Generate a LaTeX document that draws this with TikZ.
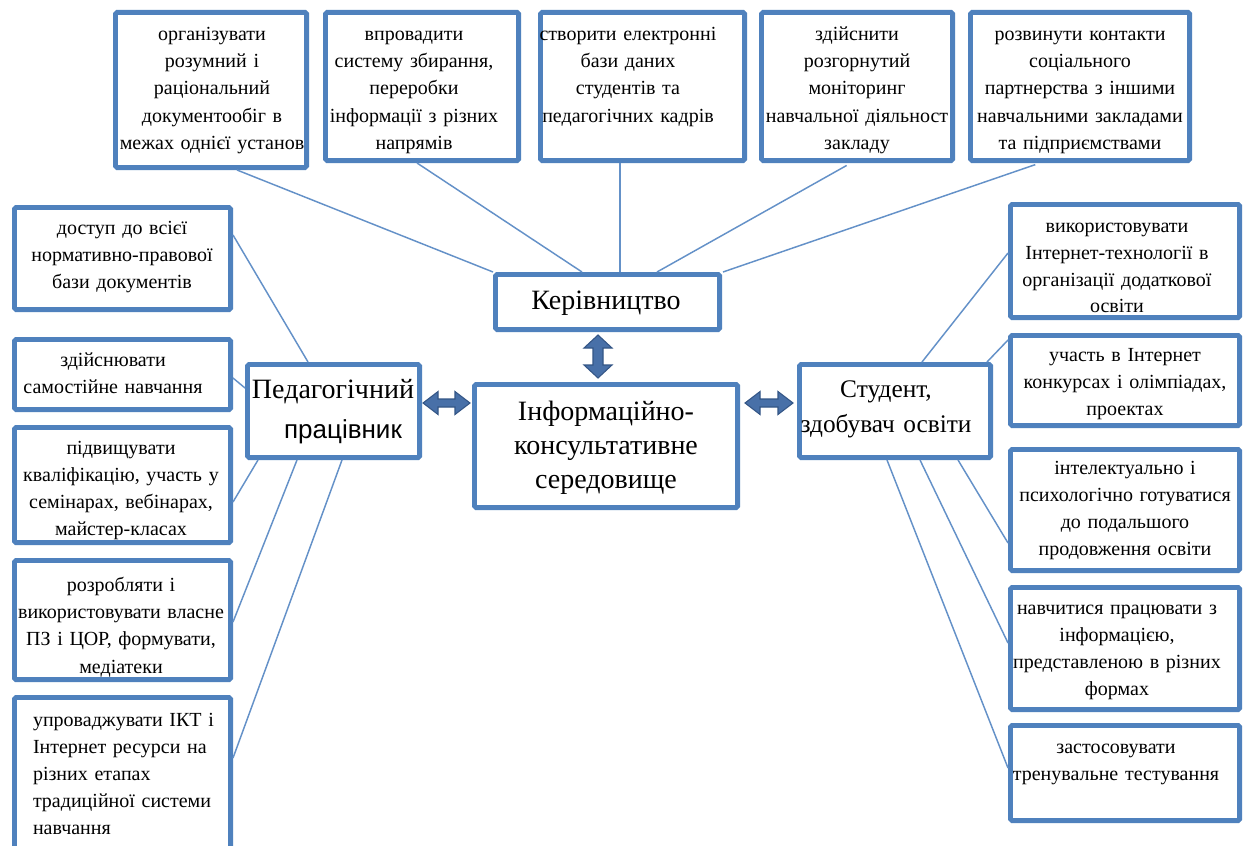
\documentclass[tikz,border=0pt]{standalone}
\usepackage{fontspec}
\setmainfont{Liberation Serif}
\setsansfont{Liberation Sans}
\usetikzlibrary{calc,fit}
\definecolor{boxblue}{RGB}{79,129,189}
\definecolor{lineblue}{RGB}{100,145,200}
\definecolor{arrowblue}{RGB}{72,112,168}
\definecolor{arrowdark}{RGB}{52,86,134}
\newcommand{\dblharrow}[2]{\path[blockarrow] let \p1=#1, \p2=#2 in
  (\x1,\y1) -- (\x1+11.25pt,\y1+8.6pt) -- (\x1+11.25pt,\y1+3pt) -- (\x2-11.25pt,\y1+3pt) -- (\x2-11.25pt,\y1+8.6pt)
  -- (\x2,\y1) -- (\x2-11.25pt,\y1-8.6pt) -- (\x2-11.25pt,\y1-3pt) -- (\x1+11.25pt,\y1-3pt) -- (\x1+11.25pt,\y1-8.6pt) -- cycle;}
\newcommand{\dblvarrow}[2]{\path[blockarrow] let \p1=#1, \p2=#2 in
  (\x1,\y1) -- (\x1+10.5pt,\y1-9.75pt) -- (\x1+3.75pt,\y1-9.75pt) -- (\x1+3.75pt,\y2+9.75pt) -- (\x1+10.5pt,\y2+9.75pt)
  -- (\x1,\y2) -- (\x1-10.5pt,\y2+9.75pt) -- (\x1-3.75pt,\y2+9.75pt) -- (\x1-3.75pt,\y1-9.75pt) -- (\x1-10.5pt,\y1-9.75pt) -- cycle;}
\begin{document}
\begin{tikzpicture}[x=0.75pt,y=-0.75pt,
  box/.style={draw=boxblue, line width=3.6pt, inner sep=0pt, rounded corners=1.2pt},
  conn/.style={draw=lineblue, line width=1.1pt},
  blockarrow/.style={fill=arrowblue, draw=arrowdark, line width=0.8pt, line join=miter},
  sized/.style 2 args={font=\fontsize{#1}{#2}\selectfont, execute at begin node={\fontsize{#1}{#2}\selectfont\strut}},
  txt/.style={inner sep=0pt, outer sep=0pt, text width=180pt, align=center, anchor=north, sized={15}{20.4}},
  txtr/.style={inner sep=0pt, outer sep=0pt, text width=180pt, align=center, anchor=north, sized={15}{20.2}},
  txtl/.style={txt, align=left, anchor=north west},
  big/.style={inner sep=0pt, outer sep=0pt, text width=220pt, align=center, anchor=north}]
\fill[white] (0,0) rectangle (1244,845);
\useasboundingbox (0,0) rectangle (1244,845);

% top row
\node[box, fit={(115.4,12.4) (306.6,167.6)}] (t1) {};
\node[box, fit={(325.4,12.4) (518.6,160.6)}] (t2) {};
\node[box, fit={(540.4,12.4) (744.6,160.6)}] (t3) {};
\node[box, fit={(761.4,12.4) (952.6,160.6)}] (t4) {};
\node[box, fit={(970.4,12.4) (1189.6,160.6)}] (t5) {};
\node[txt] (t1t) at (212,21.5) {організувати\\розумний і\\раціональний\\документообіг в\\межах однієї установ};
\node[txt] (t2t) at (414,21.5) {впровадити\\систему збирання,\\переробки\\інформації з різних\\напрямів};
\node[txt] (t3t) at (628,21.5) {створити електронні\\бази даних\\студентів та\\педагогічних кадрів};
\node[txt] (t4t) at (857,21.5) {здійснити\\розгорнутий\\моніторинг\\навчальної діяльност\\закладу};
\node[txt] (t5t) at (1080,21.5) {розвинути контакти\\соціального\\партнерства з іншими\\навчальними закладами\\та підприємствами};

% left column
\node[box, fit={(14.4,207.4) (230.6,309.6)}] (l1) {};
\node[box, fit={(14.4,339.4) (230.6,409.6)}] (l2) {};
\node[box, fit={(14.4,427.4) (230.6,542.6)}] (l3) {};
\node[box, fit={(14.4,560.4) (230.6,679.6)}] (l4) {};
\node[box, fit={(14.4,697.4) (230.6,860)}] (l5) {};
\node[txt] (l1t) at (122,215) {доступ до всієї\\нормативно-правової\\бази документів};
\node[txt] (l2t) at (113,347) {здійснювати\\самостійне навчання};
\node[txt] (l3t) at (121,435) {підвищувати\\кваліфікацію, участь у\\семінарах, вебінарах,\\майстер-класах};
\node[txt] (l4t) at (121,572.5) {розробляти і\\використовувати власне\\ПЗ і ЦОР, формувати,\\медіатеки};
\node[txtl] (l5t) at (33,707) {упроваджувати ІКТ і\\Інтернет ресурси на\\різних етапах\\традиційної системи\\навчання};

% right column
\node[box, fit={(1010.4,204.4) (1239.6,317.6)}] (r1) {};
\node[box, fit={(1010.4,335.4) (1239.6,425.6)}] (r2) {};
\node[box, fit={(1010.4,449.4) (1239.6,570.6)}] (r3) {};
\node[box, fit={(1010.4,587.4) (1239.6,709.6)}] (r4) {};
\node[box, fit={(1010.4,725.4) (1239.6,820.6)}] (r5) {};
\node[txtr] (r1t) at (1117,213.3) {використовувати\\Інтернет-технології в\\організації додаткової\\освіти};
\node[txtr] (r2t) at (1125,342.5) {участь в Інтернет\\конкурсах і олімпіадах,\\проектах};
\node[txtr] (r3t) at (1125,456) {інтелектуально і\\психологічно готуватися\\до подальшого\\продовження освіти};
\node[txtr] (r4t) at (1117,596) {навчитися працювати з\\інформацією,\\представленою в різних\\формах};
\node[txtr] (r5t) at (1116,734.5) {застосовувати\\тренувальне тестування};

% central
\node[box, fit={(495.4,274.4) (719.6,329.6)}] (kerivn) {};
\node[box, fit={(247.4,364.4) (419.6,457.6)}] (ped) {};
\node[box, fit={(474.4,384.4) (737.6,507.6)}] (info) {};
\node[box, fit={(799.4,364.4) (990.6,457.6)}] (stud) {};
\node[big, sized={21}{26}] (kerivnt) at (606,285) {Керівництво};
\node[big, sized={21}{30}] (pedt) at (333,370) {Педагогічний\\\hspace*{15pt}{\sffamily\fontsize{19.5}{30}\selectfont працівник}};
\node[big, sized={21}{25.5}] (infot) at (606,397) {Інформаційно-\\консультативне\\середовище};
\node[big, sized={19}{26}] (studt) at (886,373.5) {Студент,\\здобувач освіти};

% connectors
\draw[conn] (237,0 |- t1.south) -- (kerivn.north west);
\draw[conn] (417,0 |- t2.south) -- (582,0 |- kerivn.north);
\draw[conn] (620,0 |- t3.south) -- (620,0 |- kerivn.north);
\draw[conn, shorten <=3.75pt] (851,0 |- t4.south) -- (657,0 |- kerivn.north);
\draw[conn, shorten <=3.75pt] (1040,0 |- t5.south) -- (723,0 |- kerivn.north);

\draw[conn] (l1.east |- 0,235) -- (308,0 |- ped.north);
\draw[conn] (l2.east |- 0,378) -- (ped.west |- 0,388);
\draw[conn] (258,0 |- ped.south) -- (l3.east |- 0,502);
\draw[conn] (297,0 |- ped.south) -- (l4.east |- 0,622);
\draw[conn] (342,0 |- ped.south) -- (l5.east |- 0,758);

\draw[conn] (r1.west |- 0,253) -- (922,0 |- stud.north);
\draw[conn] (r2.west |- 0,340) -- (987,0 |- stud.north);
\draw[conn] (958,0 |- stud.south) -- (r3.west |- 0,543);
\draw[conn] (920,0 |- stud.south) -- (r4.west |- 0,643);
\draw[conn] (887,0 |- stud.south) -- (r5.west |- 0,768);

% block arrows
\dblharrow{($(ped.east)+(1,-8)$)}{($(info.west)+(-2,0)$)}
\dblharrow{($(info.east)+(5,-43)$)}{($(stud.west)+(-4,0)$)}
\dblvarrow{($(kerivn.south)+(-9.5,3)$)}{($(info.north)+(0,-4)$)}
\end{tikzpicture}
\end{document}
